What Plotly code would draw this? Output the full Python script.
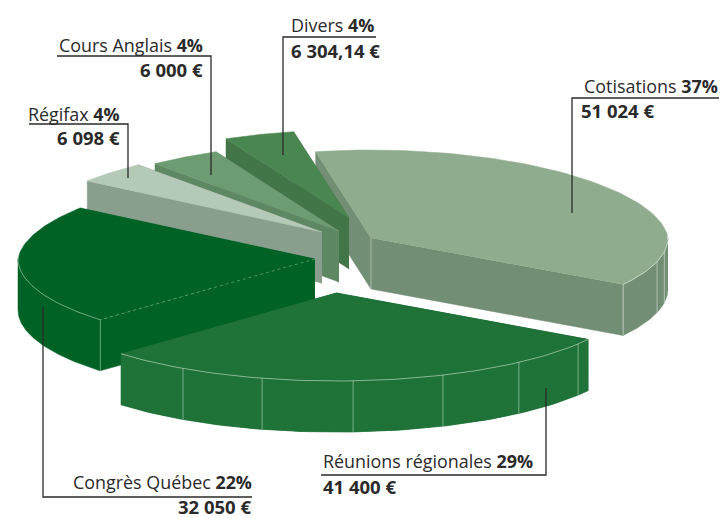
import numpy as np
import plotly.graph_objects as go

# --- data ---
categories = ["Cotisations", "Réunions régionales", "Congrès Québec", "Régifax", "Cours Anglais", "Divers"]
percents = [37, 29, 22, 4, 4, 4]
amount_labels = ["51 024 €", "41 400 €", "32 050 €", "6 098 €", "6 000 €", "6 304,14 €"]
percent_labels = ["37%", "29%", "22%", "4%", "4%", "4%"]

# --- styling / layout of the exploded oblique pie ---
START_DEG = -101.3
RX, RY, DEPTH = 297.0, 88.0, 51.0
BACK_NARROWING = 0.05
apex = {"Cotisations": (371, 238), "Réunions régionales": (336, 293), "Congrès Québec": (315, 259),
        "Régifax": (322, 232), "Cours Anglais": (339, 231), "Divers": (349, 218)}
top_color = {"Cotisations": "#8FAD8E", "Réunions régionales": "#1F7238", "Congrès Québec": "#006225",
             "Régifax": "#B4C9B6", "Cours Anglais": "#6E9C72", "Divers": "#4A8650"}
wall_color = {"Cotisations": "#728E75", "Réunions régionales": "#1F7238", "Congrès Québec": "#006225",
              "Régifax": "#8A9E8E", "Cours Anglais": "#5E8763", "Divers": "#427548"}
facet_deg = {"Réunions régionales": [121, 104.4, 86.7, 68.9, 52, 35.4], "Cotisations": [15.6, 9]}
rim_light = {"Cotisations": "rgba(225,235,225,0.7)", "Réunions régionales": "rgba(210,230,210,0.65)",
             "Congrès Québec": "rgba(190,220,195,0.6)"}
draw_order = ["Cotisations", "Divers", "Cours Anglais", "Régifax", "Congrès Québec", "Réunions régionales"]

total = sum(percents)
spans = [a / total * 360 for a in percents]
edges = START_DEG + np.concatenate([[0], np.cumsum(spans)])
angle = {c: (edges[i], edges[i + 1]) for i, c in enumerate(categories)}

fig = go.Figure()


def poly(xs, ys, color):
    fig.add_trace(go.Scatter(x=list(xs), y=list(ys), mode="lines", fill="toself", fillcolor=color,
                             line=dict(color=color, width=0.5), hoverinfo="skip", showlegend=False))


def stroke(xs, ys, color, width=0.8, dash="solid"):
    fig.add_trace(go.Scatter(x=list(xs), y=list(ys), mode="lines",
                             line=dict(color=color, width=width, dash=dash),
                             hoverinfo="skip", showlegend=False))


def rim(c, deg):
    ax, ay = apex[c]
    t = np.radians(deg)
    s = np.sin(t)
    narrowing = 1 + BACK_NARROWING * np.minimum(s, 0)  # slight perspective on the far half
    return ax + RX * np.cos(t) * narrowing, ay + RY * s


def front_range(a0, a1):
    """Part of an arc that faces the viewer (0..180 degrees on screen)."""
    lo, hi = max(a0, 0.0), min(a1, 180.0)
    return (lo, hi) if hi > lo else None


for c in draw_order:
    a0, a1 = angle[c]
    ts = np.linspace(a0, a1, 80)
    rx, ry = rim(c, ts)
    ax, ay = apex[c]
    wall = wall_color[c]
    # radial walls, outer wall (front-facing part only), then the top
    for i in (0, -1):
        poly([ax, rx[i], rx[i], ax], [ay, ry[i], ry[i] + DEPTH, ay + DEPTH], wall)
    fr = front_range(a0, a1)
    if fr:
        wx, wy = rim(c, np.linspace(fr[0], fr[1], 80))
        poly(np.r_[wx, wx[::-1]], np.r_[wy, wy[::-1] + DEPTH], wall)
    poly(np.r_[ax, rx], np.r_[ay, ry], top_color[c])
    if c in rim_light and fr:
        mask = np.sin(np.radians(ts)) > -0.05
        stroke(rx[mask], ry[mask], rim_light[c], 0.9)
        for d in facet_deg.get(c, []):
            fx, fy = rim(c, d)
            stroke([fx, fx], [fy, fy + DEPTH], rim_light[c], 0.8)

# edge highlights
x, y = rim("Congrès Québec", angle["Congrès Québec"][0])
stroke([x, x], [y, y + DEPTH], rim_light["Congrès Québec"], 0.8)
ax, ay = apex["Congrès Québec"]
stroke([ax, x], [ay, y], rim_light["Congrès Québec"], 0.7, "dot")
# Réunions covers the Congrès wall, so it is re-laid on top of these highlights
c = "Réunions régionales"
ts = np.linspace(*angle[c], 80)
rx, ry = rim(c, ts)
poly(np.r_[apex[c][0], rx], np.r_[apex[c][1], ry], top_color[c])
poly(np.r_[rx, rx[::-1]], np.r_[ry, ry[::-1] + DEPTH], wall_color[c])
stroke(rx, ry, rim_light[c], 0.9)
for d in facet_deg[c]:
    fx, fy = rim(c, d)
    stroke([fx, fx], [fy, fy + DEPTH], rim_light[c], 0.8)
x, y = rim("Cotisations", angle["Cotisations"][1])
stroke([x, x], [y, y + DEPTH], rim_light["Cotisations"], 0.9)
ax, ay = apex["Cotisations"]
stroke([ax, ax], [ay, ay + DEPTH], rim_light["Cotisations"], 0.7)

# leader lines
leaders = {
    "Cotisations": ([719, 572, 572], [98, 98, 213]),
    "Divers": ([376, 283, 283], [37, 37, 155]),
    "Cours Anglais": ([57, 211, 211], [56, 56, 175]),
    "Régifax": ([29, 128, 128], [124, 124, 178]),
    "Congrès Québec": ([43, 43, 252], [307, 497, 497]),
    "Réunions régionales": ([546, 546, 321], [388, 475, 475]),
}
for xs, ys in leaders.values():
    stroke(xs, ys, "#2B2A2A", 1.3)

# labels: (x, anchor, name y, value x, value anchor, value y)
label_pos = {
    "Cotisations": (718, "right", 86, 581, "left", 110),
    "Réunions régionales": (323, "left", 461, 323, "left", 486),
    "Congrès Québec": (252, "right", 481.5, 252, "right", 506.5),
    "Régifax": (120, "right", 114, 120, "right", 137),
    "Cours Anglais": (203, "right", 45, 203, "right", 69),
    "Divers": (291, "left", 25, 291, "left", 50),
}
NAME_FONT = dict(family="Open Sans", size=17.9, color="#2B2A2A")
VALUE_FONT = dict(family="Open Sans", size=18.5, color="#2B2A2A")
for i, c in enumerate(categories):
    nx, na, ny, vx, va, vy = label_pos[c]
    fig.add_annotation(x=nx, y=ny, xanchor=na, yanchor="middle", showarrow=False, font=NAME_FONT,
                       borderpad=0, borderwidth=0,
                       text=f"{c} <b>{percent_labels[i]}</b>", xref="x", yref="y")
    fig.add_annotation(x=vx, y=vy, xanchor=va, yanchor="middle", showarrow=False, font=VALUE_FONT,
                       borderpad=0, borderwidth=0,
                       text=f"<b>{amount_labels[i]}</b>", xref="x", yref="y")

fig.update_layout(width=720, height=518, margin=dict(l=0, r=0, t=0, b=0), autosize=False,
                  paper_bgcolor="white", plot_bgcolor="white", showlegend=False,
                  xaxis=dict(range=[0, 720], visible=False, fixedrange=True),
                  yaxis=dict(range=[518, 0], visible=False, fixedrange=True))
fig.write_html("out.html", config={"displayModeBar": False},
               post_script="document.body.style.margin='0';document.documentElement.style.overflow='hidden';")
